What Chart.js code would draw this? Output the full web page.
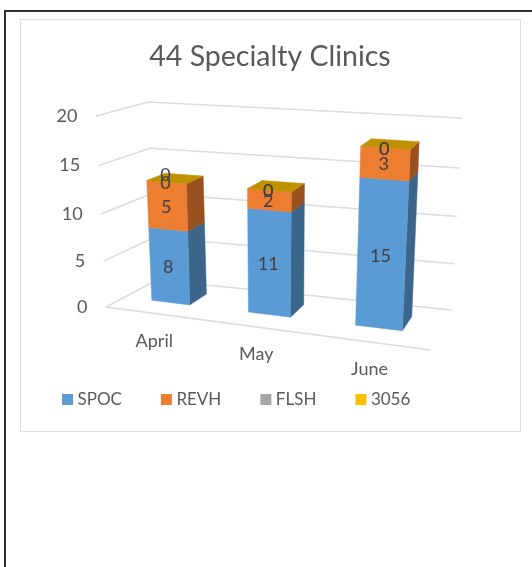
<!DOCTYPE html>
<html>
<head>
<meta charset="utf-8">
<style>
html,body{margin:0;padding:0;background:#fff;width:532px;height:567px;overflow:hidden}
#frameTop{position:absolute;left:4px;top:10px;width:528px;height:2px;background:#333}
#frameLeft{position:absolute;left:4px;top:10px;width:2px;height:557px;background:#333}
#box{position:absolute;left:20px;top:19px;width:499px;height:411px;border:1.5px solid #dedede}
canvas{position:absolute;left:0;top:0;filter:blur(0.45px)}
</style>
</head>
<body>
<div id="frameTop"></div><div id="frameLeft"></div><div id="box"></div>
<canvas id="c" width="532" height="567"></canvas>
<script src="https://cdn.jsdelivr.net/npm/chart.js@4"></script>
<script>
const months = ["April", "May", "June"];
const seriesNames = ["SPOC", "REVH", "FLSH", "3056"];
const spoc = [8, 11, 15];
const revh = [5, 2, 3];
const flsh = [0, 0, 0];
const s3056 = [0, 0, 0];
const seriesColors = ["#5B9BD5", "#ED7D31", "#A5A5A5", "#FFC000"];
const yTicks = [0, 5, 10, 15, 20];
const titleText = "44 Specialty Clinics";

const TXT = "#595959", FONT = "Lato";

// Camera: corners of the 3D plot box, indexed by [across, up, depth]
const CUBE = {
  "000": [106, 307], "100": [430, 350], "001": [157, 280], "101": [452, 310],
  "010": [96, 116],  "110": [442, 138], "011": [148, 102], "111": [462, 118]
};
const persX = t => t / (t + 1.17 * (1 - t));
const persY = s => s / (s + 1.053 * (1 - s));
function project(t, s, d) {
  const u = persX(t), v = persY(s);
  let x = 0, y = 0;
  for (const a of [0, 1]) for (const b of [0, 1]) for (const c of [0, 1]) {
    const w = (a ? u : 1 - u) * (b ? v : 1 - v) * (c ? d : 1 - d);
    const p = CUBE["" + a + b + c];
    x += w * p[0]; y += w * p[1];
  }
  return [x, y];
}
const FRONT = 0.37, BACK = 0.74;

function shade(hex, f) {
  const n = parseInt(hex.slice(1), 16);
  return "rgb(" + [(n >> 16) & 255, (n >> 8) & 255, n & 255].map(c => Math.round(c * f)).join(",") + ")";
}
function poly(ctx, pts, fill) {
  ctx.beginPath();
  pts.forEach((p, i) => i ? ctx.lineTo(p[0], p[1]) : ctx.moveTo(p[0], p[1]));
  ctx.closePath();
  ctx.fillStyle = fill; ctx.fill();
  ctx.strokeStyle = fill; ctx.lineWidth = 0.5; ctx.stroke();
}
function line(ctx, a, b) {
  ctx.beginPath(); ctx.moveTo(a[0], a[1]); ctx.lineTo(b[0], b[1]); ctx.stroke();
}

const scene3d = {
  id: "scene3d",
  beforeDatasetsDraw(chart) {
    const ctx = chart.ctx, area = chart.chartArea;
    const xs = chart.scales.x, ys = chart.scales.y;
    const T = px => (px - area.left) / area.width;
    const S = py => (area.bottom - py) / area.height;
    ctx.save();
    // walls and floor
    ctx.strokeStyle = "#dcdcdc"; ctx.lineWidth = 1.5;
    ys.ticks.forEach(tk => {
      const s = S(ys.getPixelForValue(tk.value));
      line(ctx, project(0, s, 0), project(0, s, 1));
      line(ctx, project(0, s, 1), project(1, s, 1));
    });
    line(ctx, project(0, 0, 0), project(1, 0, 0));
    // tick labels
    ctx.fillStyle = TXT; ctx.font = "18px " + FONT; ctx.textBaseline = "middle";
    ctx.textAlign = "right";
    ys.ticks.forEach(tk => {
      const s = S(ys.getPixelForValue(tk.value));
      const p = project(0, s, 0);
      ctx.fillText(tk.label, p[0] - 18.5, p[1]);
    });
    ctx.textAlign = "center";
    xs.ticks.forEach((tk, i) => {
      const p = project(T(xs.getPixelForTick(i)), 0, 0);
      ctx.fillText(tk.label, p[0] + 1, p[1] + 27.5);
    });
    // bars
    const n = chart.data.labels.length, last = chart.data.datasets.length - 1;
    const labels = [];
    for (let i = 0; i < n; i++) {
      chart.data.datasets.forEach((ds, k) => {
        const el = chart.getDatasetMeta(k).data[i];
        const t0 = T(el.x - el.width / 2), t1 = T(el.x + el.width / 2);
        const s0 = S(el.base), s1 = S(el.y);
        const col = ds.backgroundColor;
        if (s1 > s0) {
          poly(ctx, [project(t1, s0, FRONT), project(t1, s0, BACK), project(t1, s1, BACK), project(t1, s1, FRONT)], shade(col, 0.65));
          poly(ctx, [project(t0, s0, FRONT), project(t1, s0, FRONT), project(t1, s1, FRONT), project(t0, s1, FRONT)], col);
        }
        if (k === last) {
          poly(ctx, [project(t0, s1, FRONT), project(t1, s1, FRONT), project(t1, s1, BACK), project(t0, s1, BACK)], shade(col, 0.75));
        }
        const c = project(T(el.x), (s0 + s1) / 2, FRONT);
        const lift = (i === 0 && k === 2) ? -8 : 0;
        labels.push([String(ds.data[i]), c[0] - 1, c[1] + 1 + lift]);
      });
    }
    ctx.fillStyle = "#404040"; ctx.font = "18px " + FONT;
    labels.forEach(l => ctx.fillText(l[0], l[1], l[2]));
    ctx.restore();
    return false;
  }
};

new Chart(document.getElementById("c"), {
  type: "bar",
  data: {
    labels: months,
    datasets: [spoc, revh, flsh, s3056].map((vals, i) => ({
      label: seriesNames[i], data: vals, backgroundColor: seriesColors[i],
      barPercentage: 0.405, categoryPercentage: 1
    }))
  },
  options: {
    responsive: false, animation: false,
    layout: { padding: { left: 23, right: 15, top: 40, bottom: 149 } },
    scales: {
      x: { stacked: true, display: false },
      y: { stacked: true, display: false, min: 0, max: 20, ticks: { stepSize: 5 },
           afterBuildTicks: ax => { ax.ticks = yTicks.map(v => ({ value: v, label: String(v) })); } }
    },
    plugins: {
      title: { display: true, text: titleText, color: TXT,
               font: { family: FONT, size: 28.5, weight: "normal" }, padding: 0 },
      tooltip: { enabled: false },
      legend: {
        position: "bottom", align: "start",
        labels: {
          color: TXT, font: { family: FONT, size: 17 }, boxWidth: 3, boxHeight: 3, padding: 43,
          generateLabels(chart) {
            return Chart.defaults.plugins.legend.labels.generateLabels(chart).map(it => {
              it.strokeStyle = it.fillStyle; it.lineWidth = 8; it.lineJoin = "miter";
              return it;
            });
          }
        }
      }
    }
  },
  plugins: [scene3d]
});
</script>
</body>
</html>
